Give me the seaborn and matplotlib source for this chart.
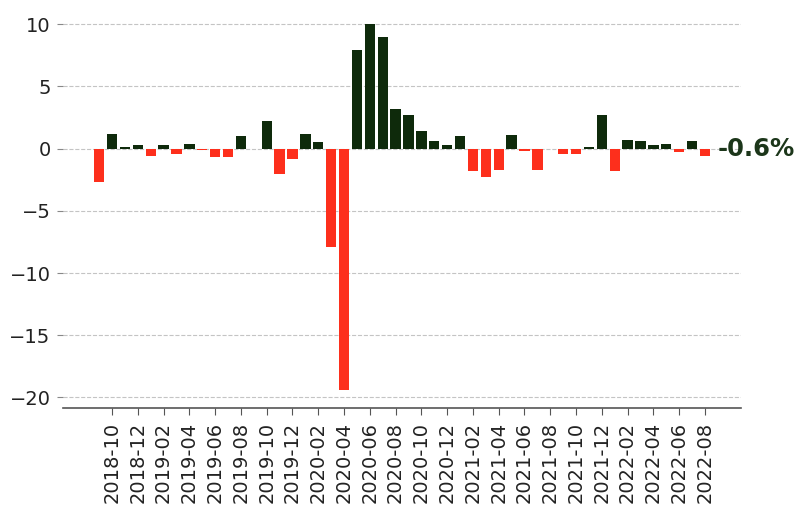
import pandas as pd
import matplotlib
matplotlib.use("Agg")
import matplotlib.pyplot as plt
import seaborn as sns

# monthly change in %, 2018-09 .. 2022-08
months = pd.period_range("2018-09", "2022-08", freq="M").strftime("%Y-%m").tolist()
values = [
    -2.7, 1.2, 0.1, 0.3, -0.6, 0.3, -0.4, 0.4, -0.1, -0.7, -0.7, 1.0,   # 2018-09 .. 2019-08
    0.0, 2.2, -2.0, -0.8, 1.2, 0.5, -7.9, -19.4, 7.9, 10.0, 9.0, 3.2,   # 2019-09 .. 2020-08
    2.7, 1.4, 0.6, 0.3, 1.0, -1.8, -2.3, -1.7, 1.1, -0.2, -1.7, 0.0,    # 2020-09 .. 2021-08
    -0.4, -0.4, 0.1, 2.7, -1.8, 0.7, 0.6, 0.3, 0.4, -0.3, 0.6, -0.6,   # 2021-09 .. 2022-08
]
tick_labels = months[1::2]

GREEN = "#0e2a0b"
RED = "#fd2f1c"


def main():
    df = pd.DataFrame({"month": months, "value": values})
    df["sign"] = ["pos" if v >= 0 else "neg" for v in df["value"]]

    fig = plt.figure(figsize=(8.03, 5.08), dpi=100)
    ax = fig.add_axes([0.0785, 0.1963, 0.8443, 0.7919])

    sns.barplot(data=df, x="month", y="value", hue="sign", order=months,
                palette={"pos": GREEN, "neg": RED}, dodge=False, width=0.8,
                saturation=1, legend=False, ax=ax)

    n = len(months)
    ax.set_xlim(-2.8, n + 1.8)
    ax.set_xticks(range(1, n, 2))
    ax.set_xticklabels(tick_labels, rotation=90, fontsize=14)
    ax.set_yticks([-20, -15, -10, -5, 0, 5, 10])
    ax.tick_params(axis="y", labelsize=14, colors="#222222", length=4,
                   color="#888888", pad=5)
    ax.tick_params(axis="x", colors="#222222", length=5, color="#555555", pad=5)
    ax.set_xlabel("")
    ax.set_ylabel("")

    ax.yaxis.grid(True, linestyle="--", color="#c4c4c4", linewidth=0.8)
    ax.xaxis.grid(False)
    ax.set_axisbelow(True)
    for side in ["top", "right", "left"]:
        ax.spines[side].set_visible(False)
    ax.spines["bottom"].set_color("#555555")
    ax.spines["bottom"].set_linewidth(1.2)

    last = values[-1]
    ax.text(n, last, f"{last:.1f}%", ha="left", va="baseline",
            fontsize=17.5, fontweight="bold", color="#1c361a")

    fig.savefig("out.png", dpi=100)
    plt.close(fig)


if __name__ == "__main__":
    main()
